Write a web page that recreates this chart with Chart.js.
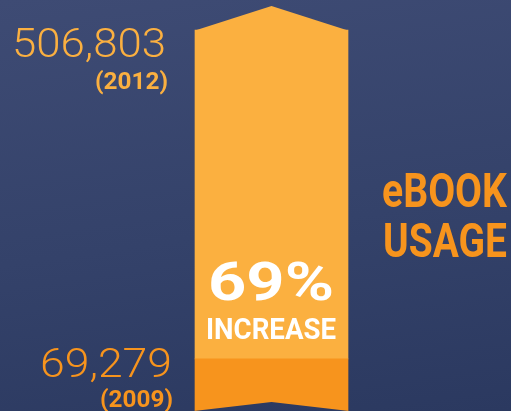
<!DOCTYPE html>
<html>
<head>
<meta charset="utf-8">
<script src="https://cdn.jsdelivr.net/npm/chart.js@4.4.0/dist/chart.umd.min.js"></script>
<style>
  html, body { margin: 0; padding: 0; overflow: hidden; }
  #usageChart { display: block; background: linear-gradient(172deg, #3e4b74 0%, #34426a 55%, #2b3960 100%); }
</style>
</head>
<body>
<canvas id="usageChart" width="511" height="411"></canvas>
<script>
// data
const years = ['2009', '2012']
const usage = [69279, 506803]
const increaseLabel = '69%'
const title = ['eBOOK', 'USAGE']

const lightOrange = '#fbb040'
const darkOrange = '#f7941d'
const condensed = 'Roboto, "Liberation Sans", sans-serif'

// draw text squeezed/stretched to a given width
function fitText(ctx, text, x, y, width, align) {
    let w = ctx.measureText(text).width
    let s = width / w
    ctx.save()
    let left = align === 'right' ? x - width : align === 'center' ? x - width / 2 : x
    ctx.translate(left, y)
    ctx.scale(s, 1)
    ctx.textAlign = 'left'
    ctx.fillText(text, 0, 0)
    ctx.restore()
}

const arrowPlugin = {
    id: 'arrow',
    afterDatasetsDraw(chart) {
        let ctx = chart.ctx
        let bar = chart.getDatasetMeta(1).data[0]
        let half = bar.width / 2
        let bottom = chart.scales.y.getPixelForValue(0)
        ctx.save()
        // arrow tip on top
        ctx.fillStyle = lightOrange
        ctx.beginPath()
        ctx.moveTo(bar.x - half, bar.y + 0.5)
        ctx.lineTo(bar.x, bar.y - 24)
        ctx.lineTo(bar.x + half, bar.y + 0.5)
        ctx.closePath()
        ctx.fill()
        // notch cut at the bottom
        ctx.globalCompositeOperation = 'destination-out'
        ctx.beginPath()
        ctx.moveTo(bar.x - half - 1, bottom)
        ctx.lineTo(bar.x, bottom - 9)
        ctx.lineTo(bar.x + half + 1, bottom)
        ctx.lineTo(bar.x + half + 1, bottom + 5)
        ctx.lineTo(bar.x - half - 1, bottom + 5)
        ctx.closePath()
        ctx.fill()
        ctx.restore()
    },
    afterDraw(chart) {
        let ctx = chart.ctx
        let y = chart.scales.y
        let top = y.getPixelForValue(usage[1])
        let mid = y.getPixelForValue(usage[0])
        ctx.save()
        ctx.textBaseline = 'alphabetic'

        ctx.fillStyle = lightOrange
        ctx.font = '300 41px Roboto, "Open Sans", sans-serif'
        fitText(ctx, usage[1].toLocaleString('en-US'), 166, top + 27, 154, 'right')
        ctx.font = 'bold 23px ' + condensed
        fitText(ctx, '(' + years[1] + ')', 168, top + 59, 73, 'right')

        ctx.fillStyle = darkOrange
        ctx.font = '300 41px Roboto, "Open Sans", sans-serif'
        fitText(ctx, usage[0].toLocaleString('en-US'), 172, mid + 18, 132, 'right')
        ctx.font = 'bold 23px ' + condensed
        fitText(ctx, '(' + years[0] + ')', 173, mid + 48, 73, 'right')

        ctx.fillStyle = '#ffffff'
        ctx.font = 'bold 53px ' + condensed
        fitText(ctx, increaseLabel, 271, 300, 126, 'center')
        ctx.font = 'bold 30px ' + condensed
        fitText(ctx, 'INCREASE', 271, 339, 130, 'center')

        ctx.fillStyle = darkOrange
        ctx.font = 'bold 49px ' + condensed
        fitText(ctx, title[0], 382, 207, 125, 'left')
        fitText(ctx, title[1], 383, 257, 124, 'left')
        ctx.restore()
    }
}

let ctx = document.getElementById('usageChart').getContext('2d')

new Chart(ctx, {
    type: 'bar',
    data: {
        labels: ['eBook usage'],
        datasets: [{
            data: [usage[0]],
            backgroundColor: darkOrange,
            barThickness: 153
        }, {
            data: [usage[1] - usage[0]],
            backgroundColor: lightOrange,
            barThickness: 153
        }]
    },
    options: {
        responsive: false,
        animation: false,
        layout: {
            padding: { left: 32, right: 0, top: 0, bottom: 0 }
        },
        scales: {
            x: { display: false, stacked: true },
            y: { display: false, stacked: true, min: 0, max: 546700 }
        },
        plugins: {
            legend: { display: false },
            tooltip: { enabled: false }
        }
    },
    plugins: [arrowPlugin]
})
</script>
</body>
</html>
